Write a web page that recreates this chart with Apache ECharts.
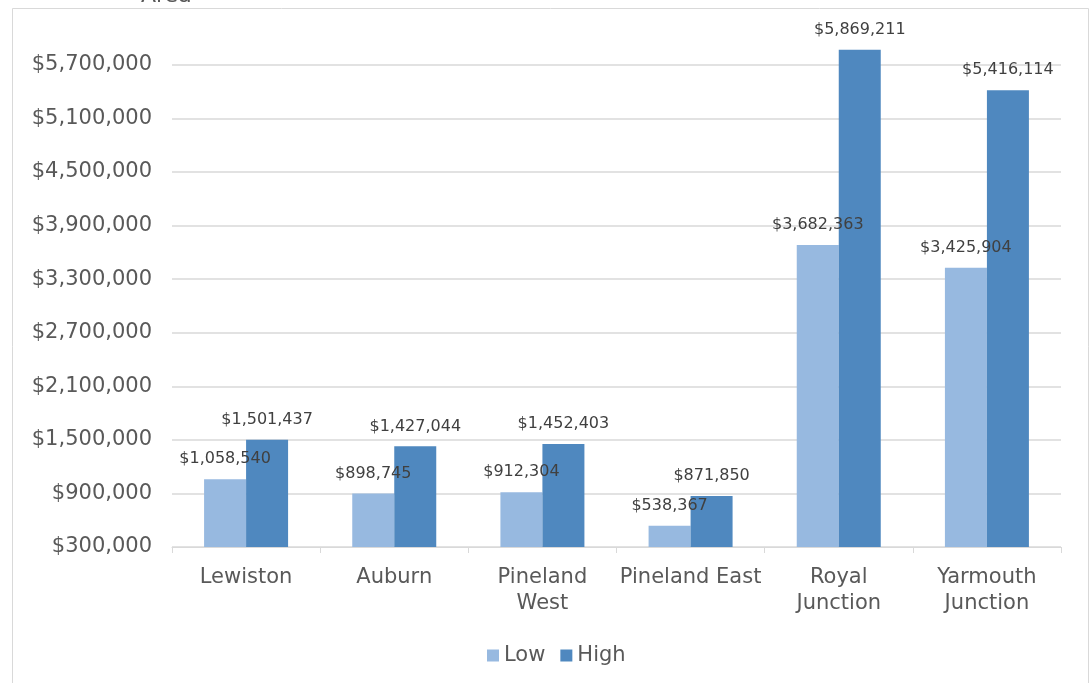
<!DOCTYPE html>
<html>
<head>
<meta charset="utf-8">
<script src="https://cdn.jsdelivr.net/npm/echarts@6/dist/echarts.min.js"></script>
<style>
  html, body { margin: 0; padding: 0; background: #fff; }
  #main { width: 1090px; height: 683px; }
</style>
</head>
<body>
<div id="main"></div>
<script>
// 数据
var categories = ['Lewiston', 'Auburn', 'Pineland\nWest', 'Pineland East', 'Royal\nJunction', 'Yarmouth\nJunction'];
var lowValues = [1058540, 898745, 912304, 538367, 3682363, 3425904];
var highValues = [1501437, 1427044, 1452403, 871850, 5869211, 5416114];
var yMin = 300000;
var yMax = 6000000;
var yStep = 600000;

function money(v) {
  return '$' + Number(v).toLocaleString('en-US');
}

var chart = echarts.init(document.getElementById('main'));

var option = {
  backgroundColor: '#fff',
  textStyle: { fontFamily: 'DejaVu Sans' },
  graphic: [
    {
      type: 'rect',
      shape: { x: 12.5, y: 8.5, width: 1076, height: 700 },
      style: { fill: 'none', stroke: '#d9d9d9', lineWidth: 1 },
      silent: true
    },
    {
      // 标题被截掉，只露出底部一点
      type: 'text',
      left: 141,
      top: -15,
      style: { text: 'Area', fontSize: 22, fill: '#595959', fontFamily: 'DejaVu Sans' },
      silent: true
    }
  ],
  grid: { left: 172, right: 29, top: 38, bottom: 136 },
  legend: {
    data: ['Low', 'High'],
    left: 482,
    top: 640,
    itemWidth: 12,
    itemHeight: 12,
    itemGap: 15,
    icon: 'rect',
    textStyle: { fontSize: 21, color: '#595959', fontFamily: 'DejaVu Sans' }
  },
  xAxis: {
    type: 'category',
    data: categories,
    axisLine: { lineStyle: { color: '#d9d9d9', width: 1 } },
    axisTick: { show: true, length: 6, lineStyle: { color: '#d9d9d9' } },
    axisLabel: { fontSize: 21, color: '#595959', lineHeight: 26, margin: 18, interval: 0 }
  },
  yAxis: {
    type: 'value',
    min: yMin,
    max: yMax,
    interval: yStep,
    axisLine: { show: false },
    axisTick: { show: false },
    axisLabel: {
      fontSize: 21, color: '#595959', margin: 20, showMaxLabel: false,
      formatter: function (v) { return (v - yMin) % yStep === 0 ? money(v) : ''; }
    },
    splitLine: { show: true, showMaxLine: false, lineStyle: { color: '#d9d9d9', width: 1.5 } }
  },
  series: [
    {
      name: 'Low',
      type: 'bar',
      data: lowValues,
      barWidth: 42,
      barGap: '0%',
      itemStyle: { color: '#97b9e0' },
      label: { show: true, position: 'top', distance: 12, fontSize: 16, color: '#404040', formatter: function (p) { return money(p.value); } }
    },
    {
      name: 'High',
      type: 'bar',
      data: highValues,
      barWidth: 42,
      barGap: '0%',
      itemStyle: { color: '#4f88bf' },
      label: { show: true, position: 'top', distance: 12, fontSize: 16, color: '#404040', formatter: function (p) { return money(p.value); } }
    }
  ]
};

chart.setOption(option);
</script>
</body>
</html>
